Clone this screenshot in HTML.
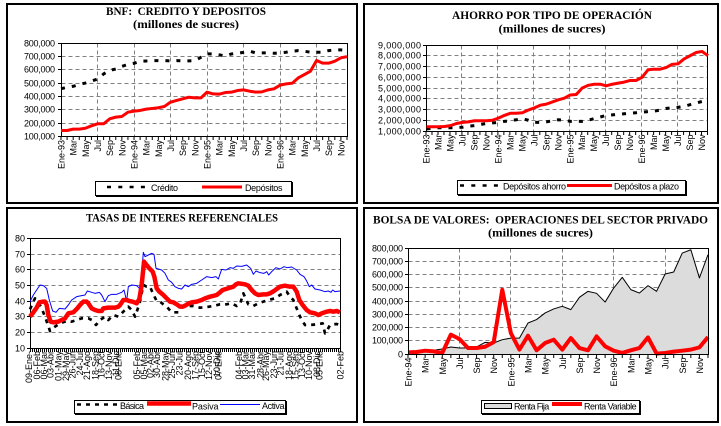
<!DOCTYPE html>
<html><head><meta charset="utf-8">
<style>
html,body{margin:0;padding:0;background:#fff;}
svg{display:block;}
text{font-family:"Liberation Sans",Arial,sans-serif;font-size:9px;fill:#000;}
.t{font-family:"Liberation Serif","Times New Roman",serif;font-weight:bold;font-size:11.5px;text-anchor:middle;}
.g{stroke:#808080;stroke-width:1;stroke-dasharray:4 3;fill:none;}
.ax{stroke:#000;stroke-width:1;fill:none;}
.ns{vector-effect:non-scaling-stroke;fill:none;stroke-linejoin:round;}
.e{text-anchor:end;}
</style></head><body>
<svg width="721" height="426" viewBox="0 0 721 426" xmlns="http://www.w3.org/2000/svg">
<rect x="0" y="0" width="721" height="426" fill="#fff"/>
<!-- frames -->
<rect x="7" y="4" width="350" height="199" fill="none" stroke="#000" stroke-width="2"/>
<rect x="364" y="4" width="354" height="199" fill="none" stroke="#000" stroke-width="2"/>
<rect x="7" y="208" width="350" height="214" fill="none" stroke="#000" stroke-width="2"/>
<rect x="364" y="208" width="354" height="214" fill="none" stroke="#000" stroke-width="2"/>

<!-- ================= PANEL 1 ================= -->
<text class="t" x="186" y="15" textLength="160" lengthAdjust="spacingAndGlyphs">BNF:&#160; CREDITO Y DEPOSITOS</text>
<text class="t" x="186" y="28" textLength="106" lengthAdjust="spacingAndGlyphs">(millones de sucres)</text>
<path class="g" d="M61.5 56.5H347.5M61.5 69.5H347.5M61.5 83.5H347.5M61.5 96.5H347.5M61.5 109.5H347.5M61.5 123.5H347.5M97.5 43.5V136.5M134.5 43.5V136.5M170.5 43.5V136.5M207.5 43.5V136.5M243.5 43.5V136.5M280.5 43.5V136.5M316.5 43.5V136.5"/>
<rect class="ax" x="61.5" y="43.5" width="286" height="93"/>
<path class="ax" d="M58 43.5H61.5M58 56.5H61.5M58 69.5H61.5M58 83.5H61.5M58 96.5H61.5M58 109.5H61.5M58 123.5H61.5M58 136.5H61.5"/>
<line x1="60.5" y1="138.5" x2="348" y2="138.5" stroke="#000" stroke-width="3" stroke-dasharray="1 5.085"/>
<g class="e">
<text x="55" y="46.5" textLength="31">800,000</text>
<text x="55" y="59.5" textLength="31">700,000</text>
<text x="55" y="72.5" textLength="31">600,000</text>
<text x="55" y="86.5" textLength="31">500,000</text>
<text x="55" y="99.5" textLength="31">400,000</text>
<text x="55" y="112.5" textLength="31">300,000</text>
<text x="55" y="126.5" textLength="31">200,000</text>
<text x="55" y="139.5" textLength="31">100,000</text>
<text transform="translate(64.5,140) rotate(-90)">Ene-93</text>
<text transform="translate(76.7,140) rotate(-90)">Mar</text>
<text transform="translate(88.8,140) rotate(-90)">May</text>
<text transform="translate(101,140) rotate(-90)">Jul</text>
<text transform="translate(113.2,140) rotate(-90)">Sep</text>
<text transform="translate(125.4,140) rotate(-90)">Nov</text>
<text transform="translate(137.5,140) rotate(-90)">Ene-94</text>
<text transform="translate(149.7,140) rotate(-90)">Mar</text>
<text transform="translate(161.9,140) rotate(-90)">May</text>
<text transform="translate(174,140) rotate(-90)">Jul</text>
<text transform="translate(186.2,140) rotate(-90)">Sep</text>
<text transform="translate(198.4,140) rotate(-90)">Nov</text>
<text transform="translate(210.5,140) rotate(-90)">Ene-95</text>
<text transform="translate(222.7,140) rotate(-90)">Mar</text>
<text transform="translate(234.9,140) rotate(-90)">May</text>
<text transform="translate(247.1,140) rotate(-90)">Jul</text>
<text transform="translate(259.2,140) rotate(-90)">Sep</text>
<text transform="translate(271.4,140) rotate(-90)">Nov</text>
<text transform="translate(283.6,140) rotate(-90)">Ene-96</text>
<text transform="translate(295.7,140) rotate(-90)">Mar</text>
<text transform="translate(307.9,140) rotate(-90)">May</text>
<text transform="translate(320.1,140) rotate(-90)">Jul</text>
<text transform="translate(332.2,140) rotate(-90)">Sep</text>
<text transform="translate(344.4,140) rotate(-90)">Nov</text>
</g>
<g transform="translate(61,136.5) scale(6.085,-0.1336)">
<polyline class="ns" stroke="#000" stroke-width="3" stroke-dasharray="4 7" points="0,358 1,368 2,376 3,390 4,400 5,415 6,430 7,468 8,495 9,505 10,525 11,540 12,548 13,563 14,565 15,568 16,568 17,568 18,566 19,568 20,566 21,566 22,568 23,593 24,618 25,618 26,611 27,603 28,618 29,623 30,630 31,638 32,626 33,626 34,626 35,623 36,626 37,631 38,638 39,643 40,638 41,631 42,631 43,631 44,643 45,648 46,648 47,643"/>
<polyline class="ns" stroke="#ff0000" stroke-width="3" points="0,45 1,45 2,55 3,55 4,62 5,80 6,95 7,95 8,132 9,145 10,150 11,182 12,190 13,195 14,205 15,210 16,215 17,225 18,257 19,270 20,282 21,294 22,289 23,289 24,332 25,319 26,317 27,329 28,332 29,344 30,349 31,339 32,332 33,334 34,349 35,357 36,384 37,394 38,399 39,439 40,464 41,489 42,569 43,549 44,549 45,564 46,589 47,598"/>
</g>
<rect x="95.5" y="181.5" width="196" height="14" fill="#fff" stroke="#000"/>
<path d="M292.5 182V197M96 196.5H293" stroke="#000" stroke-width="1"/>
<line x1="107" y1="187" x2="148" y2="187" stroke="#000" stroke-width="2.5" stroke-dasharray="4 7.3"/>
<text x="151" y="191" textLength="27">Crédito</text>
<line x1="202" y1="187" x2="242" y2="187" stroke="#ff0000" stroke-width="3"/>
<text x="245" y="191" textLength="37.5">Depósitos</text>

<!-- ================= PANEL 2 ================= -->
<text class="t" x="552" y="19" textLength="200" lengthAdjust="spacingAndGlyphs">AHORRO POR TIPO DE OPERACIÓN</text>
<text class="t" x="552" y="32.5" textLength="107" lengthAdjust="spacingAndGlyphs">(millones de sucres)</text>
<path class="g" d="M426.5 55.5H707.5M426.5 66.5H707.5M426.5 77.5H707.5M426.5 88.5H707.5M426.5 98.5H707.5M426.5 109.5H707.5M426.5 120.5H707.5M461.5 45.5V131.5M497.5 45.5V131.5M533.5 45.5V131.5M569.5 45.5V131.5M605.5 45.5V131.5M641.5 45.5V131.5M677.5 45.5V131.5"/>
<rect class="ax" x="426.5" y="45.5" width="281" height="86"/>
<path class="ax" d="M423 45.5H426.5M423 55.5H426.5M423 66.5H426.5M423 77.5H426.5M423 88.5H426.5M423 98.5H426.5M423 109.5H426.5M423 120.5H426.5M423 131.5H426.5"/>
<line x1="425.5" y1="133.5" x2="708.5" y2="133.5" stroke="#000" stroke-width="3" stroke-dasharray="1 4.99"/>
<g class="e">
<text x="421" y="48.5" textLength="43">9,000,000</text>
<text x="421" y="58.5" textLength="43">8,000,000</text>
<text x="421" y="69.5" textLength="43">7,000,000</text>
<text x="421" y="80.5" textLength="43">6,000,000</text>
<text x="421" y="91.5" textLength="43">5,000,000</text>
<text x="421" y="101.5" textLength="43">4,000,000</text>
<text x="421" y="112.5" textLength="43">3,000,000</text>
<text x="421" y="123.5" textLength="43">2,000,000</text>
<text x="421" y="134.5" textLength="43">1,000,000</text>
<text transform="translate(429.5,134.5) rotate(-90)">Ene-93</text>
<text transform="translate(441.5,134.5) rotate(-90)">Mar</text>
<text transform="translate(453.5,134.5) rotate(-90)">May</text>
<text transform="translate(465.4,134.5) rotate(-90)">Jul</text>
<text transform="translate(477.4,134.5) rotate(-90)">Sep</text>
<text transform="translate(489.4,134.5) rotate(-90)">Nov</text>
<text transform="translate(501.4,134.5) rotate(-90)">Ene-94</text>
<text transform="translate(513.4,134.5) rotate(-90)">Mar</text>
<text transform="translate(525.3,134.5) rotate(-90)">May</text>
<text transform="translate(537.3,134.5) rotate(-90)">Jul</text>
<text transform="translate(549.3,134.5) rotate(-90)">Sep</text>
<text transform="translate(561.3,134.5) rotate(-90)">Nov</text>
<text transform="translate(573.3,134.5) rotate(-90)">Ene-95</text>
<text transform="translate(585.2,134.5) rotate(-90)">Mar</text>
<text transform="translate(597.2,134.5) rotate(-90)">May</text>
<text transform="translate(609.2,134.5) rotate(-90)">Jul</text>
<text transform="translate(621.2,134.5) rotate(-90)">Sep</text>
<text transform="translate(633.2,134.5) rotate(-90)">Nov</text>
<text transform="translate(645.1,134.5) rotate(-90)">Ene-96</text>
<text transform="translate(657.1,134.5) rotate(-90)">Mar</text>
<text transform="translate(669.1,134.5) rotate(-90)">May</text>
<text transform="translate(681.1,134.5) rotate(-90)">Jul</text>
<text transform="translate(693.1,134.5) rotate(-90)">Sep</text>
<text transform="translate(705,134.5) rotate(-90)">Nov</text>
</g>
<g transform="translate(426.5,131) scale(5.99,-10.75)">
<polyline class="ns" stroke="#000" stroke-width="3" stroke-dasharray="4 7" points="0,0.2 1,0.25 2,0.3 3,0.3 4,0.3 5,0.32 6,0.35 7,0.45 8,0.5 9,0.6 10,0.7 11,0.75 12,0.8 13,0.9 14,0.95 15,1.05 16,1.15 17,1.0 18,0.8 19,0.8 20,0.85 21,0.95 22,1.05 23,1.0 24,0.9 25,0.9 26,0.9 27,1.0 28,1.15 29,1.3 30,1.45 31,1.5 32,1.55 33,1.6 34,1.65 35,1.7 36,1.75 37,1.8 38,1.85 39,1.95 40,2.1 41,2.15 42,2.2 43,2.3 44,2.45 45,2.6 46,2.75 47,2.75"/>
<polyline class="ns" stroke="#ff0000" stroke-width="3" points="0,0.4 1,0.4 2,0.4 3,0.42 4,0.5 5,0.7 6,0.8 7,0.85 8,0.95 9,0.95 10,0.95 11,1.0 12,1.2 13,1.45 14,1.65 15,1.65 16,1.7 17,1.95 18,2.15 19,2.4 20,2.5 21,2.7 22,2.9 23,3.05 24,3.35 25,3.4 26,4.0 27,4.25 28,4.35 29,4.35 30,4.2 31,4.35 32,4.45 33,4.55 34,4.7 35,4.7 36,5.0 37,5.7 38,5.75 39,5.75 40,5.9 41,6.2 42,6.25 43,6.7 44,7.0 45,7.3 46,7.4 47,7.0"/>
</g>
<rect x="457.5" y="180.5" width="228" height="14" fill="#fff" stroke="#000"/>
<path d="M686.5 181V196M458 195.5H687" stroke="#000" stroke-width="1"/>
<line x1="460" y1="185.5" x2="499" y2="185.5" stroke="#000" stroke-width="2.5" stroke-dasharray="4 7.3"/>
<text x="503" y="189.5" textLength="63">Depósitos ahorro</text>
<line x1="567" y1="185.5" x2="612" y2="185.5" stroke="#ff0000" stroke-width="3"/>
<text x="614" y="189.5" textLength="65">Depósitos a plazo</text>

<!-- ================= PANEL 3 ================= -->
<text class="t" x="182" y="221.5" textLength="192" lengthAdjust="spacingAndGlyphs">TASAS DE INTERES REFERENCIALES</text>
<path class="g" d="M30.5 254.5H340.5M30.5 269.5H340.5M30.5 285.5H340.5M30.5 301.5H340.5M30.5 316.5H340.5M30.5 332.5H340.5"/>
<rect class="ax" x="30.5" y="238.5" width="310" height="110"/>
<path class="ax" d="M27 238.5H30.5M27 254.5H30.5M27 269.5H30.5M27 285.5H30.5M27 301.5H30.5M27 316.5H30.5M27 332.5H30.5M27 348.5H30.5"/>
<line x1="30" y1="350.5" x2="341" y2="350.5" stroke="#000" stroke-width="3" stroke-dasharray="1 1"/>
<g class="e">
<text x="25" y="241.5">80</text>
<text x="25" y="257.5">70</text>
<text x="25" y="272.5">60</text>
<text x="25" y="288.5">50</text>
<text x="25" y="304.5">40</text>
<text x="25" y="319.5">30</text>
<text x="25" y="335.5">20</text>
<text x="25" y="351.5">10</text>
<text transform="translate(32,351) rotate(-90)">09-Ene-</text>
<text transform="translate(40.2,351) rotate(-90)">06-Feb</text>
<text transform="translate(46.8,351) rotate(-90)">06-Mar</text>
<text transform="translate(53.5,351) rotate(-90)">03-Abr</text>
<text transform="translate(61.5,351) rotate(-90)">01-May</text>
<text transform="translate(69.2,351) rotate(-90)">29-May</text>
<text transform="translate(75.5,351) rotate(-90)">26-Jun</text>
<text transform="translate(82.8,351) rotate(-90)">24-Jul</text>
<text transform="translate(90.2,351) rotate(-90)">21-Ago</text>
<text transform="translate(98.5,351) rotate(-90)">18-Sep</text>
<text transform="translate(104.5,351) rotate(-90)">16-Oct</text>
<text transform="translate(111.8,351) rotate(-90)">13-Nov</text>
<text transform="translate(119.2,351) rotate(-90)">11-Dic</text>
<text transform="translate(121.5,351) rotate(-90)">08-Ene</text>
<text transform="translate(140.2,351) rotate(-90)">05-Feb</text>
<text transform="translate(146.8,351) rotate(-90)">05-Mar</text>
<text transform="translate(153.5,351) rotate(-90)">02-Abr</text>
<text transform="translate(160.2,351) rotate(-90)">30-Abr</text>
<text transform="translate(168.5,351) rotate(-90)">28-May</text>
<text transform="translate(175.2,351) rotate(-90)">25-Jun</text>
<text transform="translate(182.5,351) rotate(-90)">23-Jul</text>
<text transform="translate(191.2,351) rotate(-90)">20-Ago</text>
<text transform="translate(198.5,351) rotate(-90)">17-Sep</text>
<text transform="translate(205.2,351) rotate(-90)">15-Oct</text>
<text transform="translate(211.8,351) rotate(-90)">12-Nov</text>
<text transform="translate(220.2,351) rotate(-90)">10-Dic</text>
<text transform="translate(221.5,351) rotate(-90)">07-Ene</text>
<text transform="translate(241.8,351) rotate(-90)">04-Feb</text>
<text transform="translate(248.5,351) rotate(-90)">03-Mar</text>
<text transform="translate(255.2,351) rotate(-90)">31-Mar</text>
<text transform="translate(263.5,351) rotate(-90)">28-Abr</text>
<text transform="translate(269.2,351) rotate(-90)">26-May</text>
<text transform="translate(276.8,351) rotate(-90)">23-Jun</text>
<text transform="translate(283.5,351) rotate(-90)">21-Jul</text>
<text transform="translate(291.8,351) rotate(-90)">18-Ago</text>
<text transform="translate(298.5,351) rotate(-90)">15-Sep</text>
<text transform="translate(305.2,351) rotate(-90)">13-Oct</text>
<text transform="translate(311.8,351) rotate(-90)">10-Nov</text>
<text transform="translate(320.2,351) rotate(-90)">08-Dic</text>
<text transform="translate(322.5,351) rotate(-90)">05-Ene</text>
<text transform="translate(343.5,351) rotate(-90)">02-Feb</text>
</g>
<g transform="translate(0,205) scale(0.3333333)" fill="none" stroke-linejoin="round">
<polyline stroke="#0000ff" stroke-width="3" points="90,290 100,270 110,255 120,240 130,242 140,250 148,285 158,318 168,322 178,310 195,312 205,300 215,285 230,275 245,272 255,270 262,258 275,262 285,265 298,262 305,270 315,290 325,272 335,268 350,268 365,262 372,255 380,288 385,245 395,240 410,242 418,250 425,205 430,142 435,155 445,150 455,145 462,148 468,190 475,192 485,195 495,205 505,225 515,232 525,245 535,250 545,252 555,240 565,245 575,238 590,235 605,225 620,215 635,218 648,215 655,222 665,193 678,195 690,188 700,190 710,183 725,184 740,180 752,190 760,208 768,198 780,203 792,205 800,200 806,210 815,200 828,188 840,192 852,185 862,188 875,186 890,195 900,208 912,215 920,228 928,245 935,240 945,252 960,255 975,260 985,258 993,262 998,255 1005,260 1020,258"/>
<polyline stroke="#000" stroke-width="8" stroke-dasharray="12 15" points="90,313 100,290 105,280 115,292 125,310 135,335 142,355 150,378 158,370 165,365 180,355 200,348 215,350 230,345 245,340 265,340 275,345 288,360 300,345 315,335 325,345 340,330 355,335 365,325 385,305 395,315 405,335 412,315 420,290 430,240 440,245 450,245 460,268 470,288 480,290 490,298 500,305 515,322 525,322 535,322 545,308 560,303 580,303 600,308 620,306 640,303 660,298 680,298 695,295 710,303 720,298 730,265 745,298 760,303 775,295 790,290 805,285 825,280 840,270 860,260 870,275 880,285 890,310 898,330 905,345 915,360 930,360 950,358 968,355 975,385 982,375 990,360 1000,358 1010,357 1020,360"/>
<polyline stroke="#ff0000" stroke-width="13.5" points="90,335 100,322 110,308 118,292 128,290 135,290 140,300 145,330 152,350 160,352 175,350 185,345 195,340 205,325 220,322 232,310 240,300 250,290 260,290 265,295 275,310 285,315 295,318 305,318 310,310 325,308 335,308 345,308 355,305 360,300 370,285 380,285 388,288 398,290 410,295 418,282 425,240 432,170 438,178 448,190 458,200 463,215 470,250 478,260 488,268 498,278 510,290 520,292 530,298 540,305 548,305 555,302 565,296 575,292 590,290 605,285 615,280 630,275 650,270 660,262 668,255 678,252 690,248 700,245 708,238 715,235 735,238 745,242 755,255 765,265 775,270 790,268 800,268 810,265 822,258 830,252 840,245 855,242 870,245 880,245 890,260 898,285 908,300 920,315 930,322 945,325 955,330 965,325 980,320 990,318 1000,320 1010,318 1020,322"/>
</g>
<rect x="74.5" y="400.5" width="211" height="13" fill="#fff" stroke="#000"/>
<path d="M286.5 401V415M75 414.5H287" stroke="#000" stroke-width="1"/>
<line x1="77" y1="404.5" x2="117" y2="404.5" stroke="#000" stroke-width="2.5" stroke-dasharray="4 5"/>
<text x="120" y="409" textLength="24">Básica</text>
<line x1="147" y1="403.5" x2="191" y2="403.5" stroke="#ff0000" stroke-width="4.5"/>
<text x="192" y="409.5" textLength="26.5">Pasiva</text>
<line x1="220" y1="404.5" x2="260" y2="404.5" stroke="#0000ff" stroke-width="1"/>
<text x="262" y="409" textLength="22.5">Activa</text>

<!-- ================= PANEL 4 ================= -->
<text class="t" x="540.5" y="223.3" textLength="335" lengthAdjust="spacingAndGlyphs">BOLSA DE VALORES:&#160; OPERACIONES DEL SECTOR PRIVADO</text>
<text class="t" x="540.5" y="236.7" textLength="105" lengthAdjust="spacingAndGlyphs">(millones de sucres)</text>
<path class="g" d="M408.5 261.5H708.5M408.5 274.5H708.5M408.5 287.5H708.5M408.5 301.5H708.5M408.5 314.5H708.5M408.5 327.5H708.5M408.5 340.5H708.5M459.5 248.5V354.5M510.5 248.5V354.5M562.5 248.5V354.5M613.5 248.5V354.5M665.5 248.5V354.5"/>
<g transform="translate(408,354) scale(8.571,-0.1325)">
<polygon fill="#dcdcdc" points="0,0 0,20 1,20 2,28 3,28 4,38 5,53 6,45 7,45 8,53 9,88 10,83 11,108 12,120 13,120 14,234 15,260 16,310 17,340 18,360 19,335 20,428 21,473 22,458 23,392 24,498 25,579 26,486 27,460 28,516 29,473 30,604 31,619 32,762 33,787 34,574 35,750 35,0"/>
<polyline class="ns" stroke="#000" stroke-width="1" points="0,20 1,20 2,28 3,28 4,38 5,53 6,45 7,45 8,53 9,88 10,83 11,108 12,120 13,120 14,234 15,260 16,310 17,340 18,360 19,335 20,428 21,473 22,458 23,392 24,498 25,579 26,486 27,460 28,516 29,473 30,604 31,619 32,762 33,787 34,574 35,750"/>
<polyline class="ns" stroke="#ff0000" stroke-width="4" points="0,12 1,15 2,25 3,20 4,8 5,146 6,113 7,45 8,45 9,55 10,90 11,485 12,158 13,33 14,138 15,28 16,83 17,108 18,33 19,120 20,45 21,28 22,133 23,58 24,25 25,8 26,28 27,45 28,125 29,3 30,8 31,18 32,25 33,33 34,50 35,128"/>
</g>
<rect class="ax" x="408.5" y="248.5" width="300" height="106"/>
<path class="ax" d="M405 248.5H408.5M405 261.5H408.5M405 274.5H408.5M405 287.5H408.5M405 301.5H408.5M405 314.5H408.5M405 327.5H408.5M405 340.5H408.5M405 354.5H408.5"/>
<line x1="407.5" y1="356.5" x2="709" y2="356.5" stroke="#000" stroke-width="3" stroke-dasharray="1 7.571"/>
<g class="e">
<text x="403" y="251.5" textLength="31">800,000</text>
<text x="403" y="264.5" textLength="31">700,000</text>
<text x="403" y="277.5" textLength="31">600,000</text>
<text x="403" y="290.5" textLength="31">500,000</text>
<text x="403" y="304.5" textLength="31">400,000</text>
<text x="403" y="317.5" textLength="31">300,000</text>
<text x="403" y="330.5" textLength="31">200,000</text>
<text x="403" y="343.5" textLength="31">100,000</text>
<text x="403" y="357.5">0</text>
<text transform="translate(411.5,357.5) rotate(-90)">Ene-94</text>
<text transform="translate(428.6,357.5) rotate(-90)">Mar</text>
<text transform="translate(445.8,357.5) rotate(-90)">May</text>
<text transform="translate(462.9,357.5) rotate(-90)">Jul</text>
<text transform="translate(480.1,357.5) rotate(-90)">Sep</text>
<text transform="translate(497.2,357.5) rotate(-90)">Nov</text>
<text transform="translate(514.4,357.5) rotate(-90)">Ene-95</text>
<text transform="translate(531.5,357.5) rotate(-90)">Mar</text>
<text transform="translate(548.6,357.5) rotate(-90)">May</text>
<text transform="translate(565.8,357.5) rotate(-90)">Jul</text>
<text transform="translate(582.9,357.5) rotate(-90)">Sep</text>
<text transform="translate(600.1,357.5) rotate(-90)">Nov</text>
<text transform="translate(617.2,357.5) rotate(-90)">Ene-96</text>
<text transform="translate(634.3,357.5) rotate(-90)">Mar</text>
<text transform="translate(651.5,357.5) rotate(-90)">May</text>
<text transform="translate(668.6,357.5) rotate(-90)">Jul</text>
<text transform="translate(685.8,357.5) rotate(-90)">Sep</text>
<text transform="translate(702.9,357.5) rotate(-90)">Nov</text>
</g>
<rect x="481.5" y="400.5" width="158" height="13" fill="#fff" stroke="#000"/>
<path d="M640.5 401V415M482 414.5H641" stroke="#000" stroke-width="1"/>
<rect x="484.5" y="403.5" width="27" height="5" fill="#dcdcdc" stroke="#000"/>
<text x="514" y="409.5" textLength="35.3">Renta Fija</text>
<line x1="552" y1="404" x2="582" y2="404" stroke="#ff0000" stroke-width="4"/>
<text x="584" y="409.5" textLength="52.7">Renta Variable</text>
</svg>
</body></html>
